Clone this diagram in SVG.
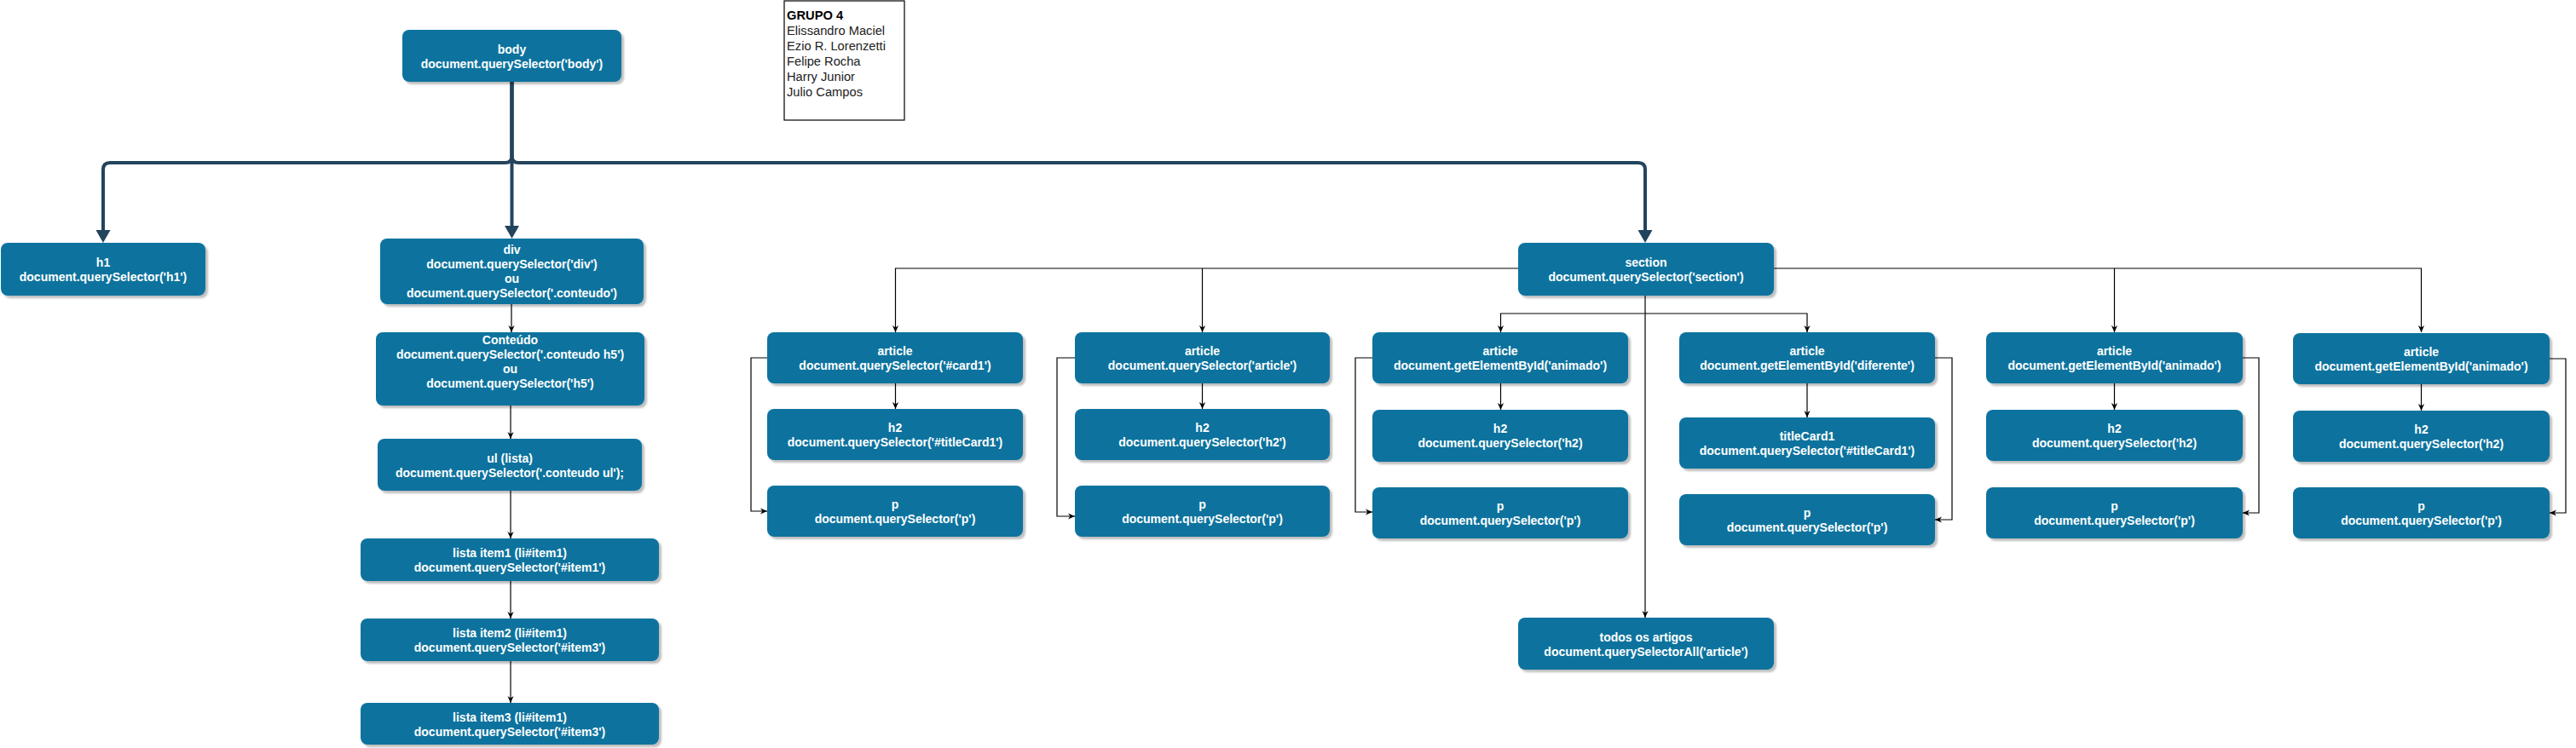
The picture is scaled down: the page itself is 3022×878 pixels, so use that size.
<svg xmlns="http://www.w3.org/2000/svg" width="3022" height="878" viewBox="0 0 3022 878">
<style>
.n{fill:#10739E;filter:url(#sh)}
.t{font-family:"Liberation Sans",Arial,Helvetica,sans-serif;font-size:14px;font-weight:bold;fill:#fff;text-anchor:middle}
.c{fill:none;stroke:#000;stroke-width:1.2;marker-end:url(#a)}
.k{fill:none;stroke:#23445D;stroke-width:4;marker-end:url(#b)}
.g{font-family:"Liberation Sans",Arial,Helvetica,sans-serif;font-size:14.7px;fill:#222}
</style>
<defs>
<filter id="sh" x="-10%" y="-10%" width="120%" height="130%"><feDropShadow dx="3" dy="3" stdDeviation="1" flood-color="#000" flood-opacity="0.25"/></filter>
<marker id="a" viewBox="0 0 10 10" refX="10" refY="5" markerWidth="8" markerHeight="8" markerUnits="userSpaceOnUse" orient="auto"><path d="M0,0.5 L10,5 L0,9.5 L3,5 z" fill="#000"/></marker>
<marker id="b" viewBox="0 0 15 17" refX="0" refY="8.5" markerWidth="15" markerHeight="17" markerUnits="userSpaceOnUse" orient="auto"><path d="M0,0 L15,8.5 L0,17 z" fill="#23445D"/></marker>
</defs>
<rect width="3022" height="878" fill="#fff"/>

<g id="connectors">
<path class="k" d="M600.5,96 V183 Q600.5,191 592.5,191 H129 Q121,191 121,199 V270"/>
<path class="k" d="M600.5,96 V265"/>
<path class="k" d="M600.5,96 V183 Q600.5,191 608.5,191 H1922 Q1930,191 1930,199 V270"/>
<path class="c" d="M600,357 V390"/>
<path class="c" d="M599,476 V515"/>
<path class="c" d="M599,576 V632"/>
<path class="c" d="M599,682 V726"/>
<path class="c" d="M599,776 V825"/>
<path class="c" d="M1781,315 H1050.5 V390"/>
<path class="c" d="M1410.5,315 V390"/>
<path class="c" d="M2081,315 H2840.5 V390"/>
<path class="c" d="M2480.5,315 V390"/>
<path class="c" d="M1930,347 V725"/>
<path class="c" d="M1930,368 H1760.5 V390"/>
<path class="c" d="M1930,368 H2120 V390"/>
<path class="c" d="M1050.5,450 V480"/>
<path class="c" d="M1410.5,450 V480"/>
<path class="c" d="M1760.5,450 V481"/>
<path class="c" d="M2120,450 V490"/>
<path class="c" d="M2480.5,450 V481"/>
<path class="c" d="M2840.5,451 V482"/>
<path class="c" d="M900,420 H881 V600 H900"/>
<path class="c" d="M1261,420 H1240 V606 H1261"/>
<path class="c" d="M1610,420 H1590 V601 H1610"/>
<path class="c" d="M2270,420 H2290 V610 H2270"/>
<path class="c" d="M2631,420 H2650 V602 H2631"/>
<path class="c" d="M2991,421 H3010 V602 H2991"/>
</g>

<g id="grupo">
<rect x="920" y="1" width="141" height="140" fill="#fff" stroke="#000" stroke-width="1.2"/>
<text class="g" x="923" y="23" style="font-weight:bold;fill:#000">GRUPO 4</text>
<text class="g" x="923" y="41">Elissandro Maciel</text>
<text class="g" x="923" y="59">Ezio R. Lorenzetti</text>
<text class="g" x="923" y="77">Felipe Rocha</text>
<text class="g" x="923" y="95">Harry Junior</text>
<text class="g" x="923" y="113">Julio Campos</text>
</g>

<g id="body"><rect class="n" x="472" y="35" width="257" height="61" rx="8"/>
<text class="t" x="600.5" y="63">body</text><text class="t" x="600.5" y="80">document.querySelector('body')</text></g>

<g id="h1"><rect class="n" x="1" y="285" width="240" height="62" rx="8"/>
<text class="t" x="121" y="313">h1</text><text class="t" x="121" y="330">document.querySelector('h1')</text></g>

<g id="div"><rect class="n" x="446" y="280" width="309" height="77" rx="8"/>
<text class="t" x="600.5" y="298">div</text><text class="t" x="600.5" y="315">document.querySelector('div')</text>
<text class="t" x="600.5" y="332">ou</text><text class="t" x="600.5" y="349">document.querySelector('.conteudo')</text></g>

<g id="conteudo"><rect class="n" x="441" y="390" width="315" height="86" rx="8"/>
<text class="t" x="598.5" y="404">Conteúdo</text><text class="t" x="598.5" y="421">document.querySelector('.conteudo h5')</text>
<text class="t" x="598.5" y="438">ou</text><text class="t" x="598.5" y="455">document.querySelector('h5')</text></g>

<g id="ul"><rect class="n" x="443" y="515" width="310" height="61" rx="8"/>
<text class="t" x="598" y="543">ul (lista)</text><text class="t" x="598" y="560">document.querySelector('.conteudo ul');</text></g>

<g id="item1"><rect class="n" x="423" y="632" width="350" height="50" rx="8"/>
<text class="t" x="598" y="654">lista item1 (li#item1)</text><text class="t" x="598" y="671">document.querySelector('#item1')</text></g>

<g id="item2"><rect class="n" x="423" y="726" width="350" height="50" rx="8"/>
<text class="t" x="598" y="748">lista item2 (li#item1)</text><text class="t" x="598" y="765">document.querySelector('#item3')</text></g>

<g id="item3"><rect class="n" x="423" y="825" width="350" height="49" rx="8"/>
<text class="t" x="598" y="847">lista item3 (li#item1)</text><text class="t" x="598" y="864">document.querySelector('#item3')</text></g>

<g id="section"><rect class="n" x="1781" y="285" width="300" height="62" rx="8"/>
<text class="t" x="1931" y="313">section</text><text class="t" x="1931" y="330">document.querySelector('section')</text></g>

<g id="todos"><rect class="n" x="1781" y="725" width="300" height="61" rx="8"/>
<text class="t" x="1931" y="753">todos os artigos</text><text class="t" x="1931" y="770">document.querySelectorAll('article')</text></g>

<g id="article1"><rect class="n" x="900" y="390" width="300" height="60" rx="8"/>
<text class="t" x="1050" y="417">article</text><text class="t" x="1050" y="434">document.querySelector('#card1')</text></g>
<g id="h2-1"><rect class="n" x="900" y="480" width="300" height="60" rx="8"/>
<text class="t" x="1050" y="507">h2</text><text class="t" x="1050" y="524">document.querySelector('#titleCard1')</text></g>
<g id="p1"><rect class="n" x="900" y="570" width="300" height="60" rx="8"/>
<text class="t" x="1050" y="597">p</text><text class="t" x="1050" y="614">document.querySelector('p')</text></g>

<g id="article2"><rect class="n" x="1261" y="390" width="299" height="60" rx="8"/>
<text class="t" x="1410.5" y="417">article</text><text class="t" x="1410.5" y="434">document.querySelector('article')</text></g>
<g id="h2-2"><rect class="n" x="1261" y="480" width="299" height="60" rx="8"/>
<text class="t" x="1410.5" y="507">h2</text><text class="t" x="1410.5" y="524">document.querySelector('h2')</text></g>
<g id="p2"><rect class="n" x="1261" y="570" width="299" height="60" rx="8"/>
<text class="t" x="1410.5" y="597">p</text><text class="t" x="1410.5" y="614">document.querySelector('p')</text></g>

<g id="article3"><rect class="n" x="1610" y="390" width="300" height="60" rx="8"/>
<text class="t" x="1760" y="417">article</text><text class="t" x="1760" y="434">document.getElementById('animado')</text></g>
<g id="h2-3"><rect class="n" x="1610" y="481" width="300" height="61" rx="8"/>
<text class="t" x="1760" y="508">h2</text><text class="t" x="1760" y="525">document.querySelector('h2)</text></g>
<g id="p3"><rect class="n" x="1610" y="572" width="300" height="60" rx="8"/>
<text class="t" x="1760" y="599">p</text><text class="t" x="1760" y="616">document.querySelector('p')</text></g>

<g id="article4"><rect class="n" x="1970" y="390" width="300" height="60" rx="8"/>
<text class="t" x="2120" y="417">article</text><text class="t" x="2120" y="434">document.getElementById('diferente')</text></g>
<g id="titlecard1"><rect class="n" x="1970" y="490" width="300" height="60" rx="8"/>
<text class="t" x="2120" y="517">titleCard1</text><text class="t" x="2120" y="534">document.querySelector('#titleCard1')</text></g>
<g id="p4"><rect class="n" x="1970" y="580" width="300" height="60" rx="8"/>
<text class="t" x="2120" y="607">p</text><text class="t" x="2120" y="624">document.querySelector('p')</text></g>

<g id="article5"><rect class="n" x="2330" y="390" width="301" height="60" rx="8"/>
<text class="t" x="2480.5" y="417">article</text><text class="t" x="2480.5" y="434">document.getElementById('animado')</text></g>
<g id="h2-5"><rect class="n" x="2330" y="481" width="301" height="60" rx="8"/>
<text class="t" x="2480.5" y="508">h2</text><text class="t" x="2480.5" y="525">document.querySelector('h2)</text></g>
<g id="p5"><rect class="n" x="2330" y="572" width="301" height="60" rx="8"/>
<text class="t" x="2480.5" y="599">p</text><text class="t" x="2480.5" y="616">document.querySelector('p')</text></g>

<g id="article6"><rect class="n" x="2690" y="391" width="301" height="60" rx="8"/>
<text class="t" x="2840.5" y="418">article</text><text class="t" x="2840.5" y="435">document.getElementById('animado')</text></g>
<g id="h2-6"><rect class="n" x="2690" y="482" width="301" height="60" rx="8"/>
<text class="t" x="2840.5" y="509">h2</text><text class="t" x="2840.5" y="526">document.querySelector('h2)</text></g>
<g id="p6"><rect class="n" x="2690" y="572" width="301" height="60" rx="8"/>
<text class="t" x="2840.5" y="599">p</text><text class="t" x="2840.5" y="616">document.querySelector('p')</text></g>
</svg>
